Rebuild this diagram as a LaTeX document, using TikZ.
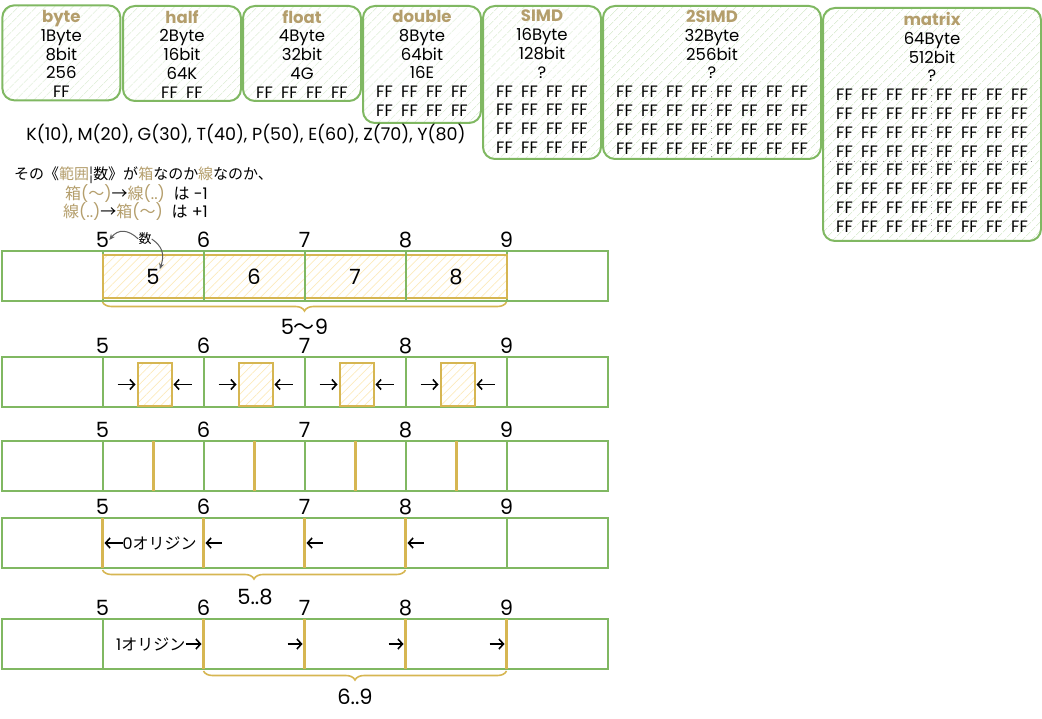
\documentclass[tikz,border=0pt]{standalone}
\usepackage{fontspec}
\setmainfont{Poppins}
\newfontfamily\cjk{Noto Sans CJK JP}
\usetikzlibrary{patterns.meta,decorations.pathreplacing,calc,arrows.meta}
\definecolor{grn}{RGB}{128,184,98}
\definecolor{grnh}{RGB}{204,228,192}
\definecolor{ylw}{RGB}{214,182,82}
\definecolor{ylwh}{RGB}{252,234,188}
\definecolor{ttl}{RGB}{180,158,108}
\definecolor{arr}{RGB}{95,95,95}
\newcommand\FFx{\makebox[25pt]{FF}}
\newcommand\FFrow{\FFx\FFx\FFx\FFx}
\begin{document}
\begin{tikzpicture}[x=1pt,y=-1pt,
  typebox/.style={draw=grn, line width=2pt, rounded corners=12pt, inner sep=0pt,
    pattern={Lines[angle=45,distance=6.5pt,line width=0.7pt]}, pattern color=grnh},
  boxtext/.style={anchor=north, inner sep=0pt, align=center, font=\fontsize{16.5}{18.8}\selectfont},
  cell/.style={draw=grn, line width=2pt, minimum width=101pt, minimum height=50pt, inner sep=0pt, outer sep=0pt, anchor=north west},
  num/.style={font=\fontsize{21}{22}\selectfont, inner sep=0pt},
  note/.style={font=\fontsize{16}{18}\selectfont, inner sep=0pt},
  jtext/.style={font=\cjk\fontsize{15}{16}\selectfont, inner sep=0pt},
  yfill/.style={draw=ylw, line width=2pt, pattern={Lines[angle=45,distance=6pt,line width=0.7pt]}, pattern color=ylwh},
  ybar/.style={draw=ylw, line width=3pt},
  ybrace/.style={draw=ylw, line width=1.6pt, decorate, decoration={brace, mirror, amplitude=9pt}},
  divdot/.style={draw=black!45, line width=0.9pt, dash pattern=on 0.9pt off 5pt},
  annot/.style={draw=arr, line width=1pt, -{Stealth[length=6pt,width=5pt]}},
  arrowline/.style={draw=black, line width=1.6pt, -{Straight Barb[length=4.5pt,width=10pt]}}
]
\useasboundingbox (0,0) rectangle (1042,719);

% ---------- top type boxes ----------
\node[typebox, anchor=north west, minimum width=118pt, minimum height=95pt] (byte) at (2,5) {};
\node[boxtext] (bytetx) at ($(byte.north)+(0,5)$) {{\color{ttl}\bfseries byte}\\1Byte\\8bit\\256\\FF};

\node[typebox, anchor=north west, minimum width=118pt, minimum height=95pt] (half) at (122,5) {};
\node[boxtext] (halftx) at ($(half.north)+(0,5)$) {{\color{ttl}\bfseries half}\\2Byte\\16bit\\64K\\\FFx\FFx};

\node[typebox, anchor=north west, minimum width=118pt, minimum height=95pt] (float) at (242,5) {};
\node[boxtext] (floattx) at ($(float.north)+(0,5)$) {{\color{ttl}\bfseries float}\\4Byte\\32bit\\4G\\\FFrow};

\node[typebox, anchor=north west, minimum width=118pt, minimum height=117pt] (double) at (362,5) {};
\node[boxtext] (doubletx) at ($(double.north)+(0,5)$) {{\color{ttl}\bfseries double}\\8Byte\\64bit\\16E\\\FFrow\\\FFrow};

\node[typebox, anchor=north west, minimum width=118pt, minimum height=153pt] (simd) at (482,5) {};
\node[boxtext] (simdtx) at ($(simd.north)+(0,5)$) {{\color{ttl}\bfseries SIMD}\\16Byte\\128bit\\?\\\FFrow\\\FFrow\\\FFrow\\\FFrow};

\node[typebox, anchor=north west, minimum width=218pt, minimum height=153pt] (dsimd) at (602,5) {};
\draw[divdot] (711,91) -- (711,157);
\node[boxtext] (dsimdtx) at ($(dsimd.north)+(0,5)$) {{\color{ttl}\bfseries 2SIMD}\\32Byte\\256bit\\?\\\FFrow\FFrow\\\FFrow\FFrow\\\FFrow\FFrow\\\FFrow\FFrow};

\node[typebox, anchor=north west, minimum width=218pt, minimum height=233pt] (matrix) at (822,7) {};
\draw[divdot] (931,89) -- (931,236);
\draw[divdot] (830,161) -- (1034,161);
\node[boxtext] (matrixtx) at ($(matrix.north)+(0,5)$) {{\color{ttl}\bfseries matrix}\\64Byte\\512bit\\?\\\FFrow\FFrow\\\FFrow\FFrow\\\FFrow\FFrow\\\FFrow\FFrow\\\FFrow\FFrow\\\FFrow\FFrow\\\FFrow\FFrow\\\FFrow\FFrow};

% ---------- notes ----------
\node[note, font=\fontsize{17.5}{18}\selectfont] (units) at (246,134) {K(10), M(20), G(30), T(40), P(50), E(60), Z(70), Y(80)};
\node[jtext, anchor=west] (note1) at (14,175) {その《\textcolor{ttl}{範囲}¦数》が\textcolor{ttl}{箱}なのか\textcolor{ttl}{線}なのか、};
\node[note, anchor=west] (note2) at (65,194) {\textcolor{ttl}{{\cjk 箱}({\cjk 〜})}{\cjk →}\textcolor{ttl}{{\cjk 線}(..)}\ \ {\cjk は} -1};
\node[note, anchor=west] (note3) at (63,212) {\textcolor{ttl}{{\cjk 線}(..)}{\cjk →}\textcolor{ttl}{{\cjk 箱}({\cjk 〜})}\ \ {\cjk は} +1};

% ---------- ruler rows ----------
\foreach \r/\t in {1/251,2/357,3/441,4/518,5/619}{
  \foreach \c in {0,...,5}{
    \node[cell] (r\r c\c) at ({1.5+101*\c},\t) {};
  }
  \foreach \k/\v in {1/5,2/6,3/7,4/8,5/9}{
    \node[num] (l\r n\v) at ({1.5+101*\k},{\t-11}) {\v};
  }
}

% row 1: boxes
\foreach \k/\v in {1/5,2/6,3/7,4/8}{
  \path[pattern={Lines[angle=45,distance=6pt,line width=0.7pt]}, pattern color=ylwh] ({1.5+101*\k},255) rectangle ({1.5+101*(\k+1)},298);
}
\draw[draw=ylw, line width=2pt] (r1c1.west |- 0,255) rectangle (r1c4.east |- 0,298);
\foreach \k in {2,3,4}{
  \draw[draw=grn, line width=2pt] (r1c\k.north west) -- (r1c\k.south west);
}
\foreach \k/\v in {1/5,2/6,3/7,4/8}{
  \node[num] (b1n\v) at ($(r1c\k.center)+(0,1)$) {\v};
}
\draw[ybrace] (102.5,302) -- (506.5,302);
\node[num] (br1) at (304.5,327) {5{\cjk 〜}9};
\node[jtext, font=\cjk\fontsize{13}{14}\selectfont] (su) at (145,239) {数};
\draw[annot] (su.west) .. controls (128,229) and (118,229) .. (l1n5.east);
\draw[annot] (su.east) .. controls (162,246) and (165,254) .. (b1n5.north east);

% row 2: small boxes with arrows
\foreach \k in {1,2,3,4}{
  \node[yfill, minimum width=34pt, minimum height=43pt, inner sep=0pt, anchor=north west] (sb\k) at ({1.5+101*\k+34},362) {};
  \coordinate (ar\k) at ($(sb\k.west)+(-19,0)$);
  \coordinate (al\k) at ($(sb\k.east)+(19,0)$);
  \draw[arrowline] (ar\k) -- ($(sb\k.west)+(-1,0)$);
  \draw[arrowline] (al\k) -- ($(sb\k.east)+(1,0)$);
}

% row 3: lines at cell centres
\foreach \k in {1,2,3,4}{
  \draw[ybar] (r3c\k.north) -- (r3c\k.south);
}

% row 4: 0-origin
\foreach \k in {1,2,3,4}{
  \draw[ybar] (r4c\k.north west) -- (r4c\k.south west);
}
\node[note, font=\fontsize{16}{17}\selectfont, anchor=west] (o0) at ($(r4c1.west)+(20,0)$) {0{\cjk オリジン}};
\draw[arrowline] (o0.west) -- ($(r4c1.west)+(2,0)$);
\foreach \k in {2,3,4}{
  \coordinate (o0a\k) at ($(r4c\k.west)+(18,0)$);
  \draw[arrowline] (o0a\k) -- ($(r4c\k.west)+(2,0)$);
}
\draw[ybrace] (102.5,570) -- (405.5,570);
\node[num] (br4) at (255,597) {5..8};

% row 5: 1-origin
\foreach \k in {2,3,4,5}{
  \draw[ybar] (r5c\k.north west) -- (r5c\k.south west);
}
\node[note, font=\fontsize{16}{17}\selectfont, anchor=east] (o1) at ($(r5c2.west)+(-18,0)$) {1{\cjk オリジン}};
\draw[arrowline] (o1.east) -- ($(r5c2.west)+(-2,0)$);
\foreach \k in {3,4,5}{
  \coordinate (o1a\k) at ($(r5c\k.west)+(-17,0)$);
  \draw[arrowline] (o1a\k) -- ($(r5c\k.west)+(-2,0)$);
}
\draw[ybrace] (203.5,671) -- (506.5,671);
\node[num] (br5) at (355,697) {6..9};
\end{tikzpicture}
\end{document}
